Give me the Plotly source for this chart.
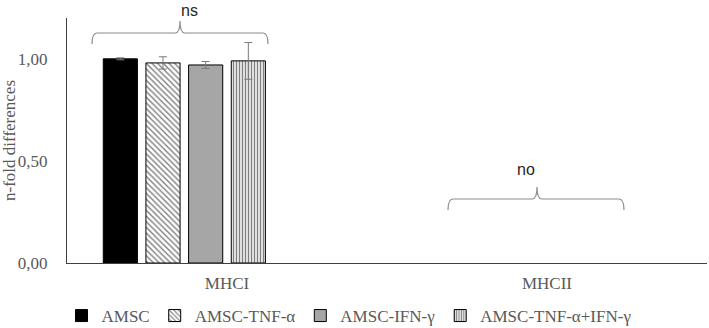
import plotly.graph_objects as go

categories = ["MHCI", "MHCII"]
series_names = ["AMSC", "AMSC-TNF-α", "AMSC-IFN-γ", "AMSC-TNF-α+IFN-γ"]
amsc = [1.00, None]
amsc_tnf = [0.98, None]
amsc_ifn = [0.97, None]
amsc_tnf_ifn = [0.99, None]
errors_amsc = [0.005, 0]
errors_tnf = [0.03, 0]
errors_ifn = [0.017, 0]
errors_tnf_ifn = [0.09, 0]
y_ticks = [0.0, 0.5, 1.0]
y_tick_labels = ["0,00", "0,50", "1,00"]
sig_labels = ["ns", "no"]

W, H = 709, 328
ML, MR, MT, MB = 67, 2, 18, 65
PW = W - ML - MR
PH = H - MT - MB
YMAX = 1.2

def px2paper(px):
    return (px - ML) / PW

def py2paper(py):
    return (H - MB - py) / PH

fig = go.Figure()
err_style = dict(type="data", color="#7a7a7a", thickness=1, width=4)

fig.add_trace(go.Bar(name=series_names[0], x=categories, y=amsc,
                     marker=dict(color="black", line=dict(color="black", width=1)),
                     error_y=dict(array=errors_amsc, **err_style)))
fig.add_trace(go.Bar(name=series_names[1], x=categories, y=amsc_tnf,
                     marker=dict(color="white", line=dict(color="black", width=1),
                                 pattern=dict(shape="\\", fgcolor="black", bgcolor="white",
                                              size=4, solidity=0.35)),
                     error_y=dict(array=errors_tnf, **err_style)))
fig.add_trace(go.Bar(name=series_names[2], x=categories, y=amsc_ifn,
                     marker=dict(color="#a6a6a6", line=dict(color="black", width=1)),
                     error_y=dict(array=errors_ifn, **err_style)))
fig.add_trace(go.Bar(name=series_names[3], x=categories, y=amsc_tnf_ifn,
                     marker=dict(color="white", line=dict(color="black", width=1),
                                 pattern=dict(shape="|", fgcolor="black", bgcolor="white",
                                              size=3, solidity=0.5)),
                     error_y=dict(array=errors_tnf_ifn, **err_style)))
# two empty series slots (as in the original workbook)
for _ in range(2):
    fig.add_trace(go.Bar(x=categories, y=[None, None], showlegend=False, hoverinfo="skip"))

def brace_path(xl, xr, xt, y_line, y_end, y_tip):
    r = 5
    X = px2paper
    Y = py2paper
    p = f"M {X(xl)},{Y(y_end)} "
    p += f"Q {X(xl)},{Y(y_line)} {X(xl + r)},{Y(y_line)} "
    p += f"L {X(xt - r)},{Y(y_line)} "
    p += f"Q {X(xt)},{Y(y_line)} {X(xt)},{Y(y_tip)} "
    p += f"Q {X(xt)},{Y(y_line)} {X(xt + r)},{Y(y_line)} "
    p += f"L {X(xr - r)},{Y(y_line)} "
    p += f"Q {X(xr)},{Y(y_line)} {X(xr)},{Y(y_end)}"
    return p

fig.add_shape(type="path", xref="paper", yref="paper",
              path=brace_path(92, 268, 180, 33, 44, 21),
              line=dict(color="#8c8c8c", width=1.2))
fig.add_shape(type="path", xref="paper", yref="paper",
              path=brace_path(448, 624, 537, 199, 210, 187),
              line=dict(color="#8c8c8c", width=1.2))

fig.add_annotation(x=px2paper(179), xref="paper", y=py2paper(10), yref="paper",
                   text=sig_labels[0], showarrow=False, yanchor="middle",
                   font=dict(family="Liberation Sans, Arial", size=16, color="#262626"))
fig.add_annotation(x=px2paper(537), xref="paper", y=py2paper(169), yref="paper",
                   text=sig_labels[1], showarrow=False, yanchor="middle",
                   font=dict(family="Liberation Sans, Arial", size=16, color="#262626"))

fig.update_layout(
    width=W, height=H,
    margin=dict(l=ML, r=MR, t=MT, b=MB, autoexpand=False),
    paper_bgcolor="white", plot_bgcolor="white",
    barmode="group", bargap=0.2, bargroupgap=0.2,
    font=dict(family="Liberation Serif, Times New Roman, serif", size=17, color="#595959"),
    showlegend=True,
    legend=dict(orientation="h", x=px2paper(349), xanchor="center",
                y=py2paper(316), yanchor="middle",
                font=dict(size=17, color="#595959"),
                itemwidth=30, traceorder="normal", bgcolor="rgba(0,0,0,0)"),
    xaxis=dict(showline=True, linecolor="#404040", linewidth=1.2, ticks="",
               ticklabelstandoff=4, showgrid=False, zeroline=False, automargin=False,
               tickfont=dict(size=17, color="#595959")),
    yaxis=dict(range=[0, YMAX], tickvals=y_ticks, ticktext=y_tick_labels,
               showline=True, linecolor="#404040", linewidth=1.2, ticks="",
               ticklabelstandoff=15, showgrid=False, zeroline=False, automargin=False,
               tickfont=dict(size=17, color="#595959"),
               title=dict(text="n-fold differences", standoff=4,
                          font=dict(size=17, color="#595959"))),
)

fig.write_html("out.html", config={"displayModeBar": False},
               post_script="document.body.style.margin='0';document.body.style.overflow='hidden';")
